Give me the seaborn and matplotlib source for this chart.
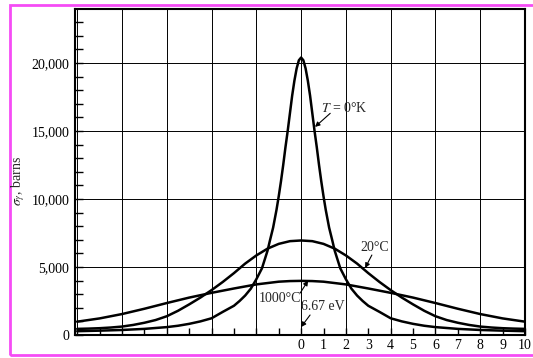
import matplotlib
matplotlib.use("Agg")
import matplotlib.pyplot as plt
import matplotlib.patches as mpatches
import pandas as pd
import seaborn as sns

# readings taken off the figure (x in units of Gamma/2 from resonance, sigma in barns)
x_0k = [-10, -9, -8, -7, -6, -5.5, -5, -4.5, -4, -3.5, -3, -2.75, -2.5, -2.25, -2, -1.75, -1.5, -1.4,
        -1.25, -1.1, -1, -0.9, -0.8, -0.7, -0.6, -0.5, -0.4, -0.3, -0.2, -0.1, 0,
        0.1, 0.2, 0.3, 0.4, 0.5, 0.6, 0.7, 0.8, 0.9, 1, 1.1, 1.25, 1.4, 1.5, 1.75, 2,
        2.25, 2.5, 2.75, 3, 3.5, 4, 4.5, 5, 5.5, 6, 7, 8, 9, 10]
sigma_0k = [280, 320, 370, 450, 580, 680, 820, 1000, 1230, 1700, 2150, 2500, 2900, 3400, 4100, 4900, 6200, 6900,
            7900, 9200, 10200, 11300, 12500, 13800, 15000, 16300, 17600, 18700, 19600, 20200, 20400,
            20200, 19600, 18700, 17600, 16300, 15000, 13800, 12500, 11300, 10200, 9200, 7900, 6900, 6200, 4900, 4100,
            3400, 2900, 2500, 2150, 1700, 1230, 1000, 820, 680, 580, 450, 370, 320, 280]

x_20c = [-10, -9.5, -9, -8.5, -8, -7.5, -7, -6.5, -6, -5.5, -5, -4.5, -4, -3.5, -3, -2.5, -2, -1.5, -1, -0.5, 0,
         0.5, 1, 1.5, 2, 2.5, 3, 3.5, 4, 4.5, 5, 5.5, 6, 6.5, 7, 7.5, 8, 8.5, 9, 9.5, 10]
sigma_20c = [450, 470, 500, 550, 620, 740, 900, 1100, 1380, 1780, 2250, 2750, 3300, 3900, 4550, 5250, 5850, 6350,
             6700, 6900, 6950,
             6900, 6700, 6350, 5850, 5250, 4550, 3900, 3300, 2750, 2250, 1780, 1380, 1100, 900, 740, 620, 550,
             500, 470, 450]

x_1000c = [-10, -9, -8, -7, -6, -5, -4, -3, -2, -1, -0.5, 0, 0.5, 1, 2, 3, 4, 5, 6, 7, 8, 9, 10]
sigma_1000c = [980, 1220, 1540, 1930, 2350, 2750, 3100, 3420, 3720, 3920, 3965, 3980, 3965, 3920, 3720, 3420,
               3100, 2750, 2350, 1930, 1540, 1220, 980]

df = pd.concat([
    pd.DataFrame({"x": x_0k, "sigma": sigma_0k, "T": "0K"}),
    pd.DataFrame({"x": x_20c, "sigma": sigma_20c, "T": "20C"}),
    pd.DataFrame({"x": x_1000c, "sigma": sigma_1000c, "T": "1000C"}),
])

sns.set_theme(style="white")
plt.rcParams["font.family"] = ["Liberation Serif", "DejaVu Serif"]
plt.rcParams["mathtext.fontset"] = "stix"

fig = plt.figure(figsize=(5.33, 3.58), dpi=100)
ax = fig.add_axes([75 / 533, 23 / 358, 450 / 533, 326 / 358])

sns.lineplot(data=df, x="x", y="sigma", units="T", estimator=None, sort=False,
             color="black", linewidth=1.8, ax=ax)

ax.set_xlim(-10.1, 10)
ax.set_ylim(0, 23970)

# x ticks: even ones carry the grid, labels only from 0 up
evens = list(range(-10, 11, 2))
odds = list(range(-9, 10, 2))
ax.set_xticks(evens, [str(v) if v >= 0 else "" for v in evens])
ax.set_xticks(odds, [str(v) if v >= 0 else "" for v in odds], minor=True)
ax.set_yticks(range(0, 20001, 5000), [f"{v:,}" for v in range(0, 20001, 5000)])
ax.set_yticks(range(0, 24000, 1000), minor=True)

ax.tick_params(axis="both", which="both", direction="in", color="black", labelsize=10,
               labelcolor="black")
ax.tick_params(axis="x", which="both", length=5, width=1, pad=3, bottom=True)
ax.tick_params(axis="y", which="both", length=6, width=1, pad=4, left=True)
ax.grid(which="major", color="black", linewidth=0.7)
for s in ax.spines.values():
    s.set_color("black")
    s.set_linewidth(1.5)
ax.set_xlabel("")
ax.set_ylabel("")

arrow = dict(arrowstyle="-|>", color="black", lw=0.8, mutation_scale=7, shrinkA=0, shrinkB=0)
ax.text(1.92, 16690, r"$T$ = 0°K", ha="center", va="center", fontsize=10)
ax.annotate("", xy=(0.62, 15300), xytext=(1.3, 16300), arrowprops=arrow)
ax.text(3.3, 6400, "20°C", ha="center", va="center", fontsize=10)
ax.annotate("", xy=(2.86, 4930), xytext=(3.16, 5880), arrowprops=arrow)
ax.text(-0.94, 2720, "1000°C", ha="center", va="center", fontsize=10)
ax.annotate("", xy=(0.31, 4000), xytext=(-0.04, 3090), arrowprops=arrow)
ax.text(0.98, 2060, "6.67 eV", ha="center", va="center", fontsize=10)
ax.annotate("", xy=(0.0, 590), xytext=(0.4, 1470), arrowprops=arrow)

fig.text(18 / 533, 1 - 181 / 358, r"$\sigma_\gamma$, barns", rotation=90,
         ha="center", va="center", fontsize=10)

# magenta frame around the scan
fig.add_artist(mpatches.Rectangle((9.5 / 533, 3 / 358), 1.1, 1 - 7.5 / 358,
                                  transform=fig.transFigure, fill=False,
                                  edgecolor="#f54cf5", linewidth=2))

fig.savefig("out.png", dpi=100)
